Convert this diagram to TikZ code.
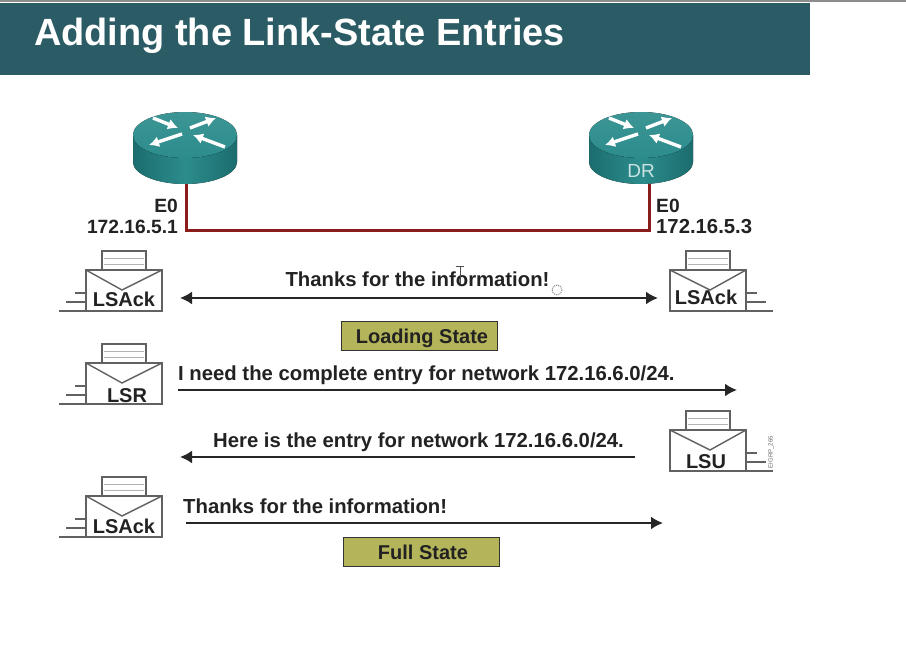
\documentclass[tikz,border=0pt]{standalone}
\usepackage{fontspec}
\setmainfont{Liberation Sans}
\usetikzlibrary{arrows.meta}

\definecolor{banner}{HTML}{2B5C66}
\definecolor{teal}{HTML}{2C8C8C}
\definecolor{tealdark}{HTML}{1C6C6E}
\definecolor{linkred}{HTML}{8A1C1C}
\definecolor{statefill}{HTML}{B4B45A}
\definecolor{inkgray}{HTML}{222222}

\tikzset{
    msgtext/.style={font=\fontsize{20.3}{22}\selectfont\bfseries, text=inkgray, inner sep=0pt},
    iftext/.style={font=\fontsize{19.2}{21}\selectfont\bfseries, text=inkgray, inner sep=0pt},
    envtext/.style={font=\fontsize{20}{22}\selectfont\bfseries, text=inkgray, inner sep=0pt},
    statebox/.style={draw=black!80, line width=1.8pt, fill=statefill, inner sep=0pt,
        minimum height=29pt, text height=14.5pt, text depth=0pt,
        font=\fontsize{20}{22}\selectfont\bfseries, text=inkgray},
    msgarrow/.style={line width=2pt, black!85, -{Latex[length=12pt,width=13pt]}},
    envline/.style={line width=1.4pt, black!62},
    envelope/.pic={
        % letter sticking out
        \draw[envline, fill=white] (-22,-41) rectangle (22,-60);
        \draw[black!30, line width=0.8pt] (-20,-53) -- (20,-53) (-20,-47) -- (20,-47);
        % body and flap
        \draw[envline, fill=white] (-38,-41) rectangle (38,0);
        \draw[envline] (-38,-41) -- (-2,-21) -- (38,-41);
        % speed lines
        \draw[envline] (-38,-18) -- (-49,-18) (-38,-9) -- (-58,-9) (-38,0) -- (-65,0);
    },
    router/.pic={
        % can
        \fill[left color=tealdark, right color=tealdark, middle color=teal]
            (-52,0) -- (-52,27) .. controls (-52,39) and (-29,49) .. (0,49)
            .. controls (29,49) and (52,39) .. (52,27) -- (52,0) -- cycle;
        \fill[top color=teal!92!white, bottom color=teal] (0,0) ellipse[x radius=52, y radius=23];
        % arrows on top
        \foreach \ax/\ay/\bx/\by in {-32/-17/-7/-7, 5/-7/31/-17, -3/-1/-36/10, 40/12/8/0}
            \draw[white, line width=3.4pt, -{Latex[length=10pt,width=11pt]}] (\ax,\ay) -- (\bx,\by);
    }
}

\begin{document}
\begin{tikzpicture}[x=1pt, y=-1pt]
    \useasboundingbox (0,0) rectangle (906,672);
    \fill[white] (0,0) rectangle (906,672);

    % title bar
    \fill[black!45] (0,0) rectangle (906,1.5);
    \fill[banner] (0,3) rectangle (810,75);
    \node[anchor=base west, inner sep=0pt, text=white, font=\fontsize{37.9}{40}\selectfont\bfseries] (title) at (34,45) {Adding the Link-State Entries};

    % routers
    \pic at (185,135) {router};
    \pic at (641,135) {router};
    \node[text=teal!25!white, inner sep=0pt, font=\fontsize{19}{21}\selectfont] (dr) at (641,171) {DR};

    % link between the routers
    \coordinate (rtrA) at (186,184);
    \coordinate (rtrB) at (649,184);
    \coordinate (linkA) at (186,230);
    \coordinate (linkB) at (649,230);
    \draw[linkred, line width=3pt, line join=miter] (rtrA) -- (linkA) -- (linkB) -- (rtrB);

    % interface labels
    \node[iftext, anchor=base east] (eA) at (178,212) {E0};
    \node[iftext, anchor=base east] (ipA) at (178,233) {172.16.5.1};
    \node[iftext, anchor=base west] (eB) at (656,212) {E0};
    \node[msgtext, anchor=base west] (ipB) at (656,233) {172.16.5.3};

    % envelopes
    \pic at (124,311) {envelope};
    \pic[xscale=-1] at (708,311) {envelope};
    \pic at (124,404) {envelope};
    \pic[xscale=-1] at (708,471) {envelope};
    \pic at (124,537) {envelope};
    \node[envtext, anchor=base] (ackA) at (124,306) {LSAck};
    \node[envtext, anchor=base] (ackB) at (706,304) {LSAck};
    \node[envtext, anchor=base] (lsr) at (127,402) {LSR};
    \node[envtext, anchor=base] (lsu) at (706,468) {LSU};
    \node[envtext, anchor=base] (ackC) at (124,533) {LSAck};

    % loading state exchange
    \coordinate (ackFrom) at (180,298);
    \coordinate (ackTo) at (658,298);
    \draw[msgarrow, {Latex[length=12pt,width=13pt]}-{Latex[length=12pt,width=13pt]}] (ackFrom) -- (ackTo);
    \node[msgtext, anchor=base] (thanksA) at (417.5,286) {Thanks for the information!};
    \node[statebox, minimum width=156pt] (loading) at (419.5,336) {\hspace*{5pt}Loading State};

    % request
    \coordinate (lsrFrom) at (178,390);
    \coordinate (lsrTo) at (737,390);
    \draw[msgarrow] (lsrFrom) -- (lsrTo);
    \node[msgtext, anchor=base west] (need) at (178,380) {I need the complete entry for network 172.16.6.0/24.};

    % update
    \coordinate (lsuFrom) at (635,457);
    \coordinate (lsuTo) at (180,457);
    \draw[msgarrow] (lsuFrom) -- (lsuTo);
    \node[msgtext, anchor=base west] (entry) at (213,447) {Here is the entry for network 172.16.6.0/24.};

    % ack and full state
    \coordinate (fullFrom) at (186,523);
    \coordinate (fullTo) at (663,523);
    \draw[msgarrow] (fullFrom) -- (fullTo);
    \node[msgtext, anchor=base west] (thanksB) at (183,513) {Thanks for the information!};
    \node[statebox, minimum width=156pt] (full) at (421.5,552) {\hspace*{3pt}Full State};

    % small figure number
    \node[rotate=90, text=black!60, inner sep=0pt, font=\fontsize{6}{7}\selectfont] (fignum) at (771,452) {EIGRP\_265};

    % mouse pointers caught in the screenshot
    \draw[black!70, line width=0.8pt] (456,266) -- (464,266) (460,266) -- (460,284);
    \draw[black!50, densely dotted, line width=1pt] (557,290) circle[radius=5];
\end{tikzpicture}
\end{document}
